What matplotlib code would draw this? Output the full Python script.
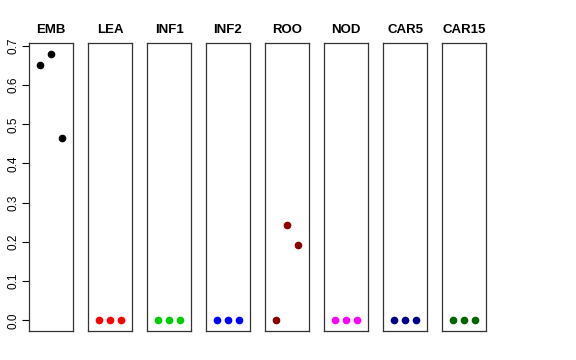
import matplotlib
matplotlib.use('Agg')
import matplotlib.pyplot as plt
import numpy as np

plt.rcParams['font.family'] = ['Liberation Sans', 'DejaVu Sans']

# panels, colours and values (three samples each)
tissues = ['EMB', 'LEA', 'INF1', 'INF2', 'ROO', 'NOD', 'CAR5', 'CAR15']
colors = ['black', '#FF0000', '#00CD00', '#0000FF', '#8B0000', '#FF00FF', '#00008B', '#006400']
emb = [0.650, 0.680, 0.465]
lea = [0.0, 0.0, 0.0]
inf1 = [0.0, 0.0, 0.0]
inf2 = [0.0, 0.0, 0.0]
roo = [0.0, 0.243, 0.193]
nod = [0.0, 0.0, 0.0]
car5 = [0.0, 0.0, 0.0]
car15 = [0.0, 0.0, 0.0]
values = [emb, lea, inf1, inf2, roo, nod, car5, car15]
samples = [1, 2, 3]
yticks = [0.0, 0.1, 0.2, 0.3, 0.4, 0.5, 0.6, 0.7]

W, H = 576, 360
fig = plt.figure(figsize=(W / 100, H / 100), dpi=100)

ymax = max(max(v) for v in values)
pad = 0.04 * ymax

for i, (name, col, vals) in enumerate(zip(tissues, colors, values)):
    left = 29 + 59 * i
    ax = fig.add_axes([left / W, 29 / H, 44 / W, 288 / H])
    ax.plot(samples, vals, 'o', color=col, markersize=4.5, linestyle='none')
    ax.set_xlim(0, 4)
    ax.set_ylim(-pad, ymax + pad)
    ax.set_xticks([])
    for s in ax.spines.values():
        s.set_color('#333333')
        s.set_linewidth(0.9)
    ax.set_title(name, fontsize=9.5, fontweight='bold', pad=7)
    if i == 0:
        ax.set_yticks(yticks)
        ax.set_yticklabels([f'{t:.1f}' for t in yticks], rotation=90, va='center', fontsize=8.5)
        ax.tick_params(axis='y', length=5, width=0.8, pad=2)
    else:
        ax.set_yticks([])

fig.savefig('out.png', dpi=100)
